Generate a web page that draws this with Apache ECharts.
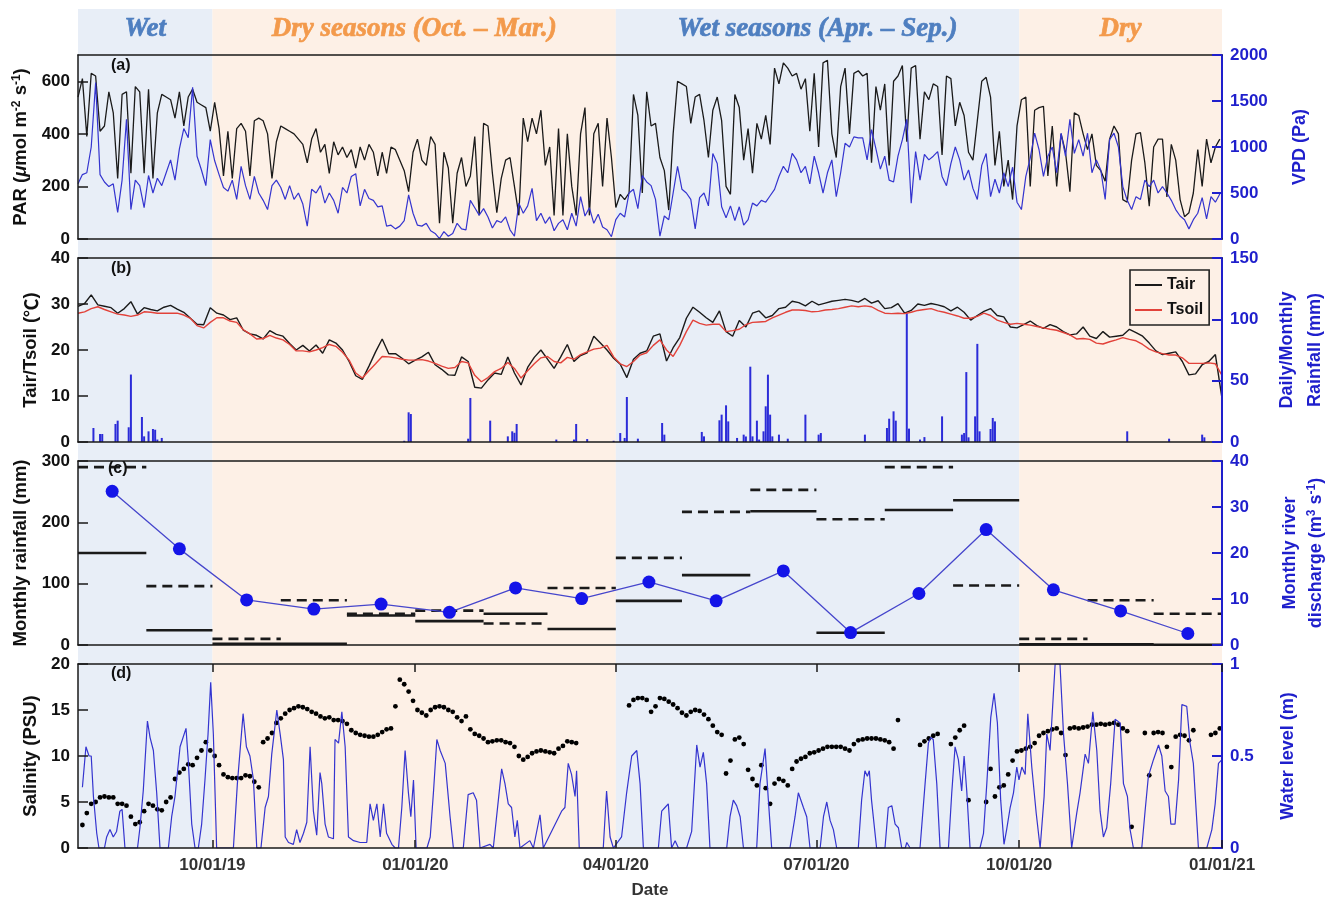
<!DOCTYPE html>
<html><head><meta charset="utf-8">
<script src="https://cdn.jsdelivr.net/npm/echarts@6/dist/echarts.min.js"></script>
<style>html,body{margin:0;padding:0;background:#fff}#c{width:1330px;height:903px}</style>
</head><body><div id="c"></div><script>
// ---------- x axis (days since 2019-08-01) ----------
const xTickDays = [61, 153, 244, 335, 427, 519];
const xTickLabels = ['10/01/19', '01/01/20', '04/01/20', '07/01/20', '10/01/20', '01/01/21'];
const dayMax = 519;

// ---------- seasons ----------
const seasonStart = [0, 61, 244, 427];
const seasonEnd = [61, 244, 427, 519];
const seasonNames = ['Wet', 'Dry seasons (Oct. – Mar.)', 'Wet seasons (Apr. – Sep.)', 'Dry'];
const seasonKinds = ['wet', 'dry', 'wet', 'dry'];

// ---------- (a) PAR & VPD, every 2 days from day 0 ----------
const parStep = 2;
const par = [
540,610,390,630,620,410,430,560,480,230,
550,560,250,580,560,250,570,230,480,550,
540,530,460,560,430,540,570,520,510,500,
410,520,420,240,410,230,420,440,410,240,
450,460,450,400,230,370,430,420,410,400,
380,360,290,380,420,330,360,250,370,320,
350,310,340,270,350,300,360,330,240,330,
250,350,340,300,260,180,330,380,300,280,
390,360,60,330,270,60,250,310,200,240,
390,90,440,430,250,100,230,300,310,200,
90,460,370,460,400,490,280,350,90,420,
90,400,200,90,400,500,90,400,440,200,
460,310,120,170,150,175,550,470,175,560,
430,440,310,260,110,400,600,590,580,440,
540,550,450,310,490,540,450,200,170,550,
500,300,420,250,440,380,470,360,650,590,
670,650,620,630,570,610,410,630,350,670,
680,400,310,580,650,400,630,640,
620,630,290,580,490,590,280,600,620,660,
370,650,660,380,560,530,590,580,320,620,
610,430,520,470,330,300,450,600,615,540,
280,410,200,300,150,430,530,540,200,490,
500,505,240,430,200,400,330,180,480,470,
400,340,400,280,260,220,380,430,400,150,
140,300,400,405,290,125,350,380,380,160,
360,300,150,85,100,175,340,200,380,290,
350,380];
const vpd = [
600,700,720,1000,1700,700,620,570,600,290,
640,1300,320,640,580,340,690,500,660,580,
720,860,640,980,1200,1100,1650,900,750,580,
1080,850,700,560,520,640,430,790,580,430,
680,500,420,320,580,640,560,430,580,430,
500,380,140,540,500,580,390,500,420,280,
560,500,680,710,360,540,440,420,350,360,
140,150,110,140,200,480,280,150,140,170,
90,60,5,80,30,60,170,110,100,420,
340,260,330,240,120,200,180,240,100,30,
390,280,360,550,200,280,170,240,90,170,
210,100,280,140,460,250,340,170,270,130,
100,25,210,280,240,500,540,330,690,620,
580,430,30,250,210,500,790,540,500,430,
110,450,500,360,930,820,350,230,360,200,
350,150,210,390,360,420,400,470,540,680,
790,720,930,860,720,790,600,900,720,500,
720,860,460,720,1040,1000,1110,1100,
1100,860,1190,980,760,900,640,620,900,1080,
1300,390,950,640,920,860,900,950,680,580,
820,1000,860,640,750,550,430,800,930,460,
650,500,720,570,780,400,320,680,880,1150,
970,680,900,1000,720,1150,900,1300,930,1080,
900,1150,720,860,750,430,1080,1150,1000,570,
420,320,460,430,640,570,640,500,570,500,
420,320,250,210,110,210,280,450,220,460,
400,490];

// ---------- (b) Tair & Tsoil every 3 days, daily rainfall ----------
const tempStep = 3;
const tair = [
29.5,30.1,32.0,29.8,29.5,29.2,28.0,29.0,30.5,27.8,
29.2,28.8,28.5,29.3,29.7,28.9,28.2,26.9,25.6,25.5,
29.2,28.0,27.6,26.6,27.0,24.3,23.5,23.2,22.4,24.2,
23.4,23.0,21.4,20.0,21.0,19.8,21.1,19.3,22.2,21.5,
20.0,17.5,14.4,13.6,16.5,19.6,22.4,19.2,19.2,18.2,
17.0,17.8,18.5,19.5,16.8,15.8,14.6,14.5,18.5,17.5,
11.9,11.7,13.5,15.0,14.7,18.5,15.0,12.4,16.2,18.4,
20.0,18.0,16.0,18.5,21.2,17.5,18.8,19.4,23.0,21.5,
20.0,18.2,16.9,14.0,18.0,19.3,19.8,23.0,23.5,17.6,
20.5,22.7,26.9,29.3,28.2,27.0,26.0,28.5,24.0,23.0,
26.4,25.0,28.0,28.5,27.0,27.5,29.0,29.3,30.6,30.3,
29.6,30.6,29.8,30.2,30.6,30.8,31.0,30.8,30.4,31.2,
30.2,30.7,29.0,29.2,30.1,28.0,28.6,30.0,29.7,30.1,
29.8,29.4,28.5,29.3,28.2,26.5,27.5,28.4,29.0,27.5,
27.2,25.0,24.8,25.5,26.3,25.3,24.7,25.5,25.0,24.0,
23.3,23.5,25.0,23.0,22.5,24.0,22.8,23.0,23.2,24.5,
23.8,23.0,21.5,19.8,19.0,19.3,19.6,17.5,14.6,14.8,
16.8,17.5,19.0,9.5];
const tsoil = [
28.0,28.3,29.0,29.4,28.8,28.3,27.8,27.6,27.3,27.6,
28.3,28.2,28.0,28.0,28.0,28.0,27.6,26.9,25.3,24.8,
26.0,27.0,27.0,26.3,26.0,24.4,23.5,22.4,22.5,23.2,
22.6,22.2,21.2,19.8,19.8,19.6,20.0,20.5,21.2,20.8,
19.5,17.8,15.0,13.9,15.5,17.0,18.6,18.5,18.3,18.0,
17.8,17.8,17.9,17.6,17.1,16.5,16.0,16.2,17.5,17.2,
14.5,13.1,14.0,15.3,16.0,17.3,16.0,13.9,15.5,17.0,
18.3,18.6,17.5,17.2,18.4,18.0,19.0,19.6,20.2,20.4,
21.0,18.5,17.0,16.4,17.5,18.9,19.4,21.0,22.2,20.0,
18.6,21.0,24.0,26.5,25.8,25.4,25.6,25.6,24.0,24.2,
24.5,25.5,26.0,26.1,26.2,27.0,27.6,28.2,28.7,28.7,
28.6,28.3,28.4,28.7,28.8,29.0,29.3,29.6,29.4,29.6,
29.4,28.6,28.0,27.9,28.0,27.9,28.2,28.6,28.8,29.0,
28.5,28.2,27.8,27.4,26.9,26.9,27.3,28.0,27.5,26.5,
26.0,25.6,25.8,25.6,25.4,25.1,24.8,24.5,24.3,23.8,
23.3,22.4,22.5,22.3,21.5,21.3,21.8,22.2,22.7,22.3,
22.0,21.2,20.2,19.6,19.2,18.9,18.9,18.3,17.1,17.1,
17.1,17.2,17.0,14.5];
const rainDays = [7,10,11,17,18,23,24,29,30,32,34,35,36,38,148,150,151,177,178,187,195,197,198,199,217,225,226,231,243,246,248,249,254,265,266,283,284,291,292,294,295,299,302,303,305,306,308,309,311,312,313,314,315,318,322,330,336,337,357,367,368,370,371,376,377,382,384,392,401,402,403,404,407,408,409,414,415,416,476,495,510,511];
const rainMM = [11.4,6.5,6.5,14.7,17.4,12,55,20.4,4.6,8.7,10.6,10,2,3.3,1,24.2,22.8,2.7,35.9,17.4,4.6,8.7,7.5,14.7,2,2,14.7,2.4,1,7.3,3.3,36.7,2.7,15.5,6,8.2,4.6,17.7,22.3,29.9,16.8,3.3,6,4.5,61.4,4.6,17.4,2,8.7,29.1,54.9,22.3,4.6,6,2.7,22.3,6,7.3,6,11.4,19,25,17.4,105,10.9,2,4,20.9,6,7.3,57,3.8,20.9,80,8.7,10.6,19.6,16.8,8.7,2.7,6,3.8];

// ---------- (c) monthly values ----------
const monthStart = [0,31,61,92,122,153,184,213,244,274,305,335,366,397,427,458,488];
const monthEnd   = [31,61,92,122,153,184,213,244,274,305,335,366,397,427,458,488,519];
const rainMonthly = [150,24,2,2,48,39,51,26,72,114,218,20,220,236,1,1,0.5];
const rainMonthlyMean = [290,96,10,73,51,56,35,93,142,217,253,205,290,97,10,73,51];
const discharge = [33.4,20.9,9.8,7.8,8.9,7.1,12.4,10.1,13.7,9.6,16.1,2.7,11.2,25.1,12.0,7.4,2.5];

// ---------- (d) salinity every 2 days (null = no data), water level ----------
const salStep = 2;
const salinity = [
null,2.5,3.8,4.8,5.0,5.5,5.6,5.5,5.5,4.8,
4.8,4.6,3.4,2.6,2.8,4.0,4.8,4.6,4.2,4.1,
5.0,5.5,7.5,8.2,8.6,9.1,9.0,9.8,10.6,11.5,
10.6,10.0,9.0,8.0,7.7,7.6,7.6,7.6,7.9,7.8,
7.2,6.6,11.5,11.9,12.5,13.6,14.1,14.6,15.0,15.2,
15.4,15.3,15.1,14.8,14.6,14.3,14.1,14.2,13.9,13.9,
13.8,13.5,12.8,12.5,12.3,12.2,12.1,12.1,12.3,12.6,
12.9,13.0,15.4,18.3,17.8,17.0,16.0,15.0,14.7,14.4,
15.0,15.3,15.4,15.3,15.0,14.8,14.2,13.8,14.3,12.9,
12.4,12.2,11.9,11.5,11.6,11.7,11.7,11.5,11.4,11.0,
10.0,9.6,9.9,10.3,10.5,10.6,10.5,10.4,10.3,10.8,
11.1,11.6,11.5,11.4,null,null,null,null,null,null,
null,null,null,null,null,15.5,16.1,16.3,16.3,16.1,
14.8,15.4,16.3,16.2,15.9,15.6,15.2,14.7,14.4,14.8,
15.0,14.9,14.5,14.0,13.3,12.6,12.3,8.1,9.5,11.8,
12.0,11.3,8.5,7.5,6.8,9.0,6.5,4.8,7.0,7.5,
7.3,6.8,8.6,9.4,9.7,9.9,10.3,10.4,10.6,10.8,
11.0,11.0,11.0,11.0,10.8,10.6,11.3,11.7,11.8,11.9,
11.9,11.9,11.8,11.7,11.5,10.8,13.9,null,null,null,
null,11.2,11.6,11.9,12.2,12.4,null,null,11.3,12.0,
12.8,13.3,5.2,null,null,null,5.0,8.6,5.6,6.6,
6.8,8.0,9.5,10.5,10.6,10.8,11.0,11.4,12.2,12.5,
12.7,12.9,13.0,12.5,10.1,13.0,13.1,13.0,13.1,13.2,
13.4,13.4,13.5,13.4,13.5,13.6,13.4,13.0,12.7,2.3,
null,null,12.5,7.9,12.5,12.6,12.5,11.0,8.8,12.1,
12.3,12.2,11.7,12.8,null,null,null,12.3,12.5,13.0];
const wlDays = [2,3.6,5,6,7,8.5,9.5,12,13,14.5,16,17.5,19,20,21.3,27,28.1,29.6,31.5,32.7,34.2,35.7,37.2,41,42.5,44,46.3,49,50,51.6,53.1,54.6,56.1,57.6,59,60.2,61.4,62.9,70.5,72.3,74.9,76.4,78,79.6,81.1,83,84.9,86.4,87.9,90.2,91.7,93.2,94,95.5,97.7,99.2,100.7,102.3,103.8,105.3,106.8,108.3,109.8,110.6,112.1,113.6,115.9,116.6,118.2,119.7,121.2,122.7,125,128,131,132.5,134,135.6,137.1,138.6,140,142.4,143.9,145.4,146.9,148.4,149.9,151,152.2,153.4,158.3,159.8,161.3,162.8,164.3,166.6,168.8,170.3,174.8,177,179.3,180.8,182.4,186.9,188.4,190.7,192.2,193.7,195.2,196.7,198.2,199.3,200.5,205,206.6,209.6,211.1,219.4,220.9,222.4,223.9,225.5,226.2,227.4,238.3,239.8,241.4,242.9,246.6,248.9,251.2,253.5,255,256.5,263.3,264.8,266.3,267.8,269.3,270.9,272.4,276.1,278.4,280.7,282.2,283.7,285.2,286.7,294.3,295.8,297.3,298.8,300.4,301.9,307.9,309.4,311.7,313.2,314.7,323,325.3,326.8,329.1,330.6,332.1,336.7,338.2,339.7,341.2,342.7,344.2,354,355.5,357,358.1,359,360,362.3,366.1,367.6,369.2,370.7,372.2,373.7,375.3,376,377.5,382,384.3,385.8,386.8,388,389.6,391.1,394.9,396.4,397.9,399.4,400.9,402,403.2,404.7,409.2,410.8,412.3,414.1,415.6,417.1,418.6,420.1,421.3,422.9,424.4,425.9,426.9,428.2,429.7,430.9,432.7,434.7,436.5,438.3,439.5,441,443.3,445.5,447.1,448.9,450.8,453.1,454.6,456.9,458.4,460.4,462.2,463.7,465.2,466.7,468.5,470.5,472.8,474.3,476.1,477.3,478.8,482.6,484.1,485.6,487.9,490.2,491.7,493.2,494.7,495.8,497.7,499.3,500.8,503,504.5,506,508.3,512.1,514.4,515.9,517.4,519];
const wlLevel = [0.33,0.55,0.5,0.5,0.28,0.08,0,0,0.06,0.1,0.06,0.09,0.2,0.21,0,0,0.11,0.31,0.69,0.6,0.53,0.3,0,0,0.17,0.28,0.55,0.65,0.48,0.13,0,0,0.13,0.37,0.62,0.9,0.62,0,0,0.35,0.73,0.55,0.5,0.37,0,0,0.22,0.28,0.51,0.75,0.62,0.48,0.06,0.03,0.02,0.1,0.03,0.08,0.14,0.55,0.2,0.07,0.41,0.35,0.13,0.06,0.05,0.59,0.57,0.74,0.55,0.06,0.04,0.03,0.03,0.24,0.15,0.24,0.06,0.24,0.08,0.02,0,0,0.22,0.53,0.3,0.17,0.37,0,0,0.06,0.31,0.59,0.53,0.46,0.17,0,0,0.29,0.3,0.26,0,0.02,0,0.26,0.43,0.35,0.24,0.22,0.06,0.15,0,0.04,0,0.18,0,0.2,0.22,0.46,0.4,0.28,0.42,0,0,0.31,0.06,0,0.06,0.3,0.5,0.53,0.35,0,0,0.2,0.22,0.24,0,0.04,0,0,0.09,0.56,0.44,0.52,0.35,0,0,0.17,0.26,0.23,0.17,0,0,0.35,0.54,0.26,0,0,0.17,0.3,0.22,0.17,0,0,0.17,0.25,0.15,0.1,0,0,0.26,0.42,0.39,0.42,0.26,0,0,0.22,0.23,0.13,0.11,0,0,0.03,0,0,0.35,0.57,0.6,0.59,0.35,0,0,0.3,0.55,0.48,0.31,0.5,0.31,0,0,0.08,0.35,0.71,0.84,0.68,0.26,0.02,0.1,0.22,0.3,0.44,0.37,0.44,0.4,0.73,0.44,0.19,0,0.28,0.62,0.53,1.0,1.0,0.62,0.35,0,0.19,0.3,0.51,0.46,0.74,0.53,0.2,0.06,0.11,0.35,0.7,0.68,0.35,0.28,0.1,0,0,0.2,0.39,0.48,0.56,0.5,0.31,0.28,0.13,0.13,0.37,0.78,0.77,0.57,0.46,0,0,0.1,0.24,0.46,0.48];

// ---------- styling ----------
const FONT = '"Liberation Sans", Arial, sans-serif';
const SERIF = '"Liberation Serif", "DejaVu Serif", serif';
const CJK = '"Noto Sans CJK SC", sans-serif';
const BLACK = '#1a1a1a';
const BLUE = '#1f1fcc';
const LINEBLUE = '#3434cf';
const RED = '#e2423a';
const WET = '#e8eef7', DRY = '#fdf0e6';
const WETTXT = '#4f7fc0', DRYTXT = '#f39a4c';
const tops = [55, 258, 461, 664];
const H = 184;
const NAMESIZE = 18.5;

const chart = echarts.init(document.getElementById('c'));

const grids = tops.map(t => ({ left: 78, right: 108, top: t, height: H, outerBoundsMode: 'none', containLabel: false }));
grids.push({ left: 78, right: 108, top: 9, height: 839, outerBoundsMode: 'none', containLabel: false });

const xAxes = [];
for (let i = 0; i < 4; i++) {
  const last = i === 3;
  ['bottom', 'top'].forEach(pos => {
    xAxes.push({
      gridIndex: i, type: 'value', min: 0, max: dayMax, position: pos, z: 5,
      axisLine: { show: true, onZero: false, lineStyle: { color: BLACK, width: 1.5 } },
      axisTick: { show: last, inside: true, length: 8, customValues: xTickDays, lineStyle: { color: BLACK, width: 1.5 } },
      axisLabel: {
        show: last && pos === 'bottom', customValues: xTickDays, margin: 9,
        fontFamily: FONT, fontWeight: 'bold', fontSize: 17, color: '#333',
        formatter: v => { const k = xTickDays.indexOf(v); return k >= 0 ? xTickLabels[k] : ''; }
      },
      splitLine: { show: false },
      name: (last && pos === 'bottom') ? 'Date' : '',
      nameLocation: 'middle', nameGap: 34,
      nameTextStyle: { fontFamily: FONT, fontWeight: 'bold', fontSize: 17, color: '#333' }
    });
  });
}
xAxes.push({ gridIndex: 4, type: 'value', min: 0, max: dayMax, show: false });

const plainNum = v => String(v);
function leftAxis(gi, max, ticks, name, gap, rich) {
  return {
    gridIndex: gi, type: 'value', min: 0, max: max, position: 'left', z: 5,
    axisLine: { show: true, onZero: false, lineStyle: { color: BLACK, width: 1.5 } },
    axisTick: { show: true, inside: true, length: 10, customValues: ticks, lineStyle: { color: BLACK, width: 1.5 } },
    axisLabel: { customValues: ticks, margin: 8, formatter: plainNum, fontFamily: FONT, fontWeight: 'bold', fontSize: 17, color: '#111' },
    splitLine: { show: false },
    name: name, nameLocation: 'middle', nameGap: gap, nameRotate: 90,
    nameTextStyle: { fontFamily: FONT, fontWeight: 'bold', fontSize: NAMESIZE, color: '#111', rich: rich || {} }
  };
}
function rightAxis(gi, max, ticks, name, gap, rich, lh) {
  return {
    gridIndex: gi, type: 'value', min: 0, max: max, position: 'right', z: 5,
    axisLine: { show: true, onZero: false, lineStyle: { color: BLUE, width: 2 } },
    axisTick: { show: true, inside: true, length: 10, customValues: ticks, lineStyle: { color: BLUE, width: 2 } },
    axisLabel: { customValues: ticks, margin: 8, formatter: plainNum, fontFamily: FONT, fontWeight: 'bold', fontSize: 17, color: BLUE },
    splitLine: { show: false },
    name: name, nameLocation: 'middle', nameGap: gap, nameRotate: 90,
    nameTextStyle: { fontFamily: FONT, fontWeight: 'bold', fontSize: 18, color: BLUE, lineHeight: lh || 20, rich: rich || {} }
  };
}
const supB = { fontFamily: FONT, fontWeight: 'bold', fontSize: 12, color: '#111', padding: [0, 0, 9, 0] };
const supBlue = { fontFamily: FONT, fontWeight: 'bold', fontSize: 12, color: BLUE, padding: [0, 0, 9, 0] };
const nB = { fontFamily: FONT, fontWeight: 'bold', fontSize: NAMESIZE, color: '#111' };
const nBlue = { fontFamily: FONT, fontWeight: 'bold', fontSize: 18, color: BLUE, lineHeight: 26 };

const yAxes = [
  leftAxis(0, 700, [0, 200, 400, 600], '{n|PAR (}{it|μ}{n|mol m}{s|-2}{n| s}{s|-1}{n|)}', 33,
    { n: nB, s: supB, it: { fontFamily: FONT, fontStyle: 'italic', fontSize: NAMESIZE, color: '#111' } }),
  rightAxis(0, 2000, [0, 500, 1000, 1500, 2000], 'VPD (Pa)', 68),
  leftAxis(1, 40, [0, 10, 20, 30, 40], '{n|Tair/Tsoil (}{c|℃}{n|)}', 32,
    { n: nB, c: { fontFamily: CJK, fontSize: NAMESIZE, color: '#111' } }),
  rightAxis(1, 150, [0, 50, 100, 150], 'Daily/Monthly\nRainfall (mm)', 51, null, 28),
  leftAxis(2, 300, [0, 100, 200, 300], 'Monthly rainfall (mm)', 37),
  rightAxis(2, 40, [0, 10, 20, 30, 40], '{n|Monthly river}\n{n|discharge (m}{s|3}{n| s}{s|-1}{n|)}', 55,
    { n: nBlue, s: supBlue }, 26),
  leftAxis(3, 20, [0, 5, 10, 15, 20], 'Salinity (PSU)', 31),
  rightAxis(3, 1, [0, 0.5, 1], 'Water level (m)', 56),
  { gridIndex: 4, type: 'value', min: 0, max: 1, show: false }
];

const seq = (arr, step) => arr.map((v, i) => [i * step, v == null ? '-' : v]);
function segments(vals) {
  const out = [];
  vals.forEach((v, i) => { out.push([monthStart[i], v], [monthEnd[i], v], [monthEnd[i], '-']); });
  return out;
}
const lineBase = { type: 'line', showSymbol: false, symbol: 'none', animation: false, connectNulls: false };

const series = [
  {
    ...lineBase, name: 'bg', xAxisIndex: 8, yAxisIndex: 8, z: 1, data: [],
    markArea: {
      silent: true,
      data: seasonStart.map((s, i) => {
        const c = seasonKinds[i] === 'wet' ? WETTXT : DRYTXT;
        return [
          {
            xAxis: s, name: seasonNames[i],
            itemStyle: { color: seasonKinds[i] === 'wet' ? WET : DRY },
            label: {
              show: true, position: 'insideTop', distance: 7, formatter: '{b}',
              fontFamily: SERIF, fontStyle: 'italic', fontWeight: 'bold', fontSize: 27,
              color: c, textBorderColor: c, textBorderWidth: 0.7
            }
          },
          { xAxis: seasonEnd[i] }
        ];
      })
    }
  },
  { ...lineBase, name: 'PAR', xAxisIndex: 0, yAxisIndex: 0, data: seq(par, parStep), lineStyle: { color: BLACK, width: 1.3 } },
  { ...lineBase, name: 'VPD', xAxisIndex: 0, yAxisIndex: 1, data: seq(vpd, parStep), lineStyle: { color: LINEBLUE, width: 1.2 } },
  { type: 'bar', name: 'Rain', xAxisIndex: 2, yAxisIndex: 3, barWidth: 2, animation: false,
    data: rainDays.map((d, i) => [d, rainMM[i]]), itemStyle: { color: '#2b2bd8' } },
  { ...lineBase, name: 'Tair', xAxisIndex: 2, yAxisIndex: 2, data: seq(tair, tempStep), color: BLACK, lineStyle: { color: BLACK, width: 1.4 } },
  { ...lineBase, name: 'Tsoil', xAxisIndex: 2, yAxisIndex: 2, data: seq(tsoil, tempStep), color: RED, lineStyle: { color: RED, width: 1.4 } },
  { ...lineBase, name: 'RainMonthly', xAxisIndex: 4, yAxisIndex: 4, data: segments(rainMonthly), lineStyle: { color: BLACK, width: 2.6 } },
  { ...lineBase, name: 'RainMean', xAxisIndex: 4, yAxisIndex: 4, data: segments(rainMonthlyMean), lineStyle: { color: BLACK, width: 2.6, type: [10, 6] } },
  { type: 'line', name: 'Discharge', xAxisIndex: 4, yAxisIndex: 5, animation: false,
    data: discharge.map((v, i) => [(monthStart[i] + monthEnd[i]) / 2, v]),
    symbol: 'circle', symbolSize: 13, showSymbol: true,
    itemStyle: { color: '#1414e8', opacity: 1 }, lineStyle: { color: '#4646cc', width: 1.3 } },
  { ...lineBase, name: 'Water level', xAxisIndex: 6, yAxisIndex: 7, data: wlDays.map((d, i) => [d, wlLevel[i]]), lineStyle: { color: LINEBLUE, width: 1.2 } },
  { type: 'scatter', name: 'Salinity', xAxisIndex: 6, yAxisIndex: 6, animation: false,
    data: seq(salinity, salStep).filter(p => p[1] !== '-'), symbolSize: 4.8, itemStyle: { color: '#000', opacity: 1 } }
];

chart.setOption({
  animation: false,
  backgroundColor: '#fff',
  grid: grids, xAxis: xAxes, yAxis: yAxes, series: series,
  legend: {
    data: ['Tair', 'Tsoil'], left: 1130, top: 270, orient: 'vertical',
    icon: 'rect', itemWidth: 27, itemHeight: 2, itemGap: 9,
    padding: [7, 6, 7, 5], borderColor: '#222', borderWidth: 1.6, backgroundColor: 'rgba(0,0,0,0)',
    textStyle: { fontFamily: FONT, fontWeight: 'bold', fontSize: 16, color: '#111' },
    selectedMode: false
  },
  graphic: [
    { type: 'text', z: 100, left: 111, top: 58, style: { text: '(a)', font: 'bold 16px ' + FONT, fill: '#111' } },
    { type: 'text', z: 100, left: 111, top: 261, style: { text: '(b)', font: 'bold 16px ' + FONT, fill: '#111' } },
    { type: 'text', z: 100, left: 108, top: 461, style: { text: '(c)', font: 'bold 16px ' + FONT, fill: '#111' } },
    { type: 'text', z: 100, left: 111, top: 666, style: { text: '(d)', font: 'bold 16px ' + FONT, fill: '#111' } }
  ]
});
</script></body></html>
